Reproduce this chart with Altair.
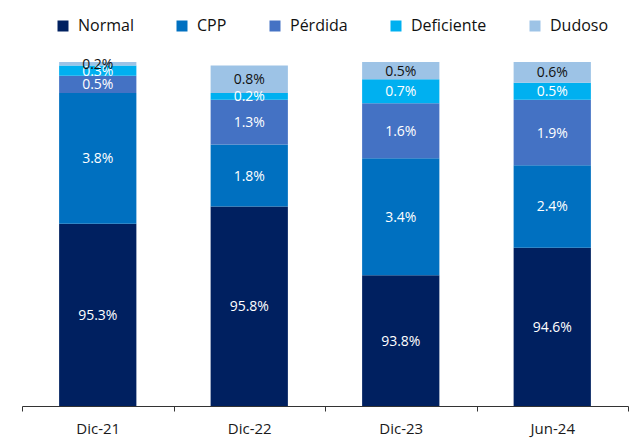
import altair as alt
import pandas as pd

periods = ["Dic-21", "Dic-22", "Dic-23", "Jun-24"]
series = ["Normal", "CPP", "Pérdida", "Deficiente", "Dudoso"]
colors = ["#002060", "#0070C0", "#4472C4", "#00B0F0", "#9DC3E6"]

normal = [95.3, 95.8, 93.8, 94.6]
cpp = [3.8, 1.8, 3.4, 2.4]
perdida = [0.5, 1.3, 1.6, 1.9]
deficiente = [0.3, 0.2, 0.7, 0.5]
dudoso = [0.2, 0.8, 0.5, 0.6]

values = [normal, cpp, perdida, deficiente, dudoso]
rows = []
for si, (s, vals) in enumerate(zip(series, values)):
    for p, v in zip(periods, vals):
        rows.append({"period": p, "serie": s, "idx": si, "value": v})
df = pd.DataFrame(rows)

FONT = "Open Sans"
YMIN = 90

base = alt.Chart(df)

x_scale = alt.Scale(paddingInner=0, paddingOuter=0)
x_enc = alt.X("period:N", sort=periods, title=None, scale=x_scale,
              axis=alt.Axis(tickBand="extent", labelAngle=0, tickSize=5,
                            labelPadding=10, labelFontSize=15, labelFont=FONT,
                            labelColor="#1a1a1a", domainColor="#333333",
                            tickColor="#333333", domainWidth=1, tickWidth=1,
                            grid=False))

y_scale = alt.Scale(domain=[YMIN, 100], clamp=True, nice=False, zero=False)

bars = base.mark_bar(stroke=None, width=alt.RelativeBandSize(0.51)).encode(
    x=x_enc,
    y=alt.Y("value:Q", stack="zero", scale=y_scale, axis=None),
    color=alt.Color("serie:N", sort=series,
                    scale=alt.Scale(domain=series, range=colors),
                    legend=alt.Legend(title=None, orient="none", direction="horizontal",
                                      legendX=33, legendY=-44, padding=0,
                                      symbolType="square", symbolSize=121,
                                      symbolStrokeWidth=0, labelFontSize=16,
                                      labelFont=FONT, labelColor="#111111",
                                      labelOffset=7, columnPadding=40)),
    order=alt.Order("idx:Q"),
)

labels = base.transform_window(
    cum="sum(value)", sort=[alt.SortField("idx")], groupby=["period"],
    frame=[None, 0]
).transform_calculate(
    mid=f"(max(datum.cum - datum.value, {YMIN}) + min(datum.cum, 100)) / 2",
    label="format(datum.value, '.1f') + '%'"
).mark_text(font=FONT, fontSize=14, baseline="middle", dy=1).encode(
    x=alt.X("period:N", sort=periods, scale=x_scale),
    y=alt.Y("mid:Q", scale=y_scale),
    text="label:N",
    color=alt.condition(alt.datum.serie == "Dudoso",
                        alt.value("#111111"), alt.value("white")),
)

chart = alt.layer(bars, labels).properties(
    width=606, height=344,
    autosize=alt.AutoSizeParams(type="none"),
    padding={"left": 14, "top": 54, "right": 2, "bottom": 40},
).configure_view(stroke=None)

chart.save("out.html", embed_options={"renderer": "svg", "actions": False})
